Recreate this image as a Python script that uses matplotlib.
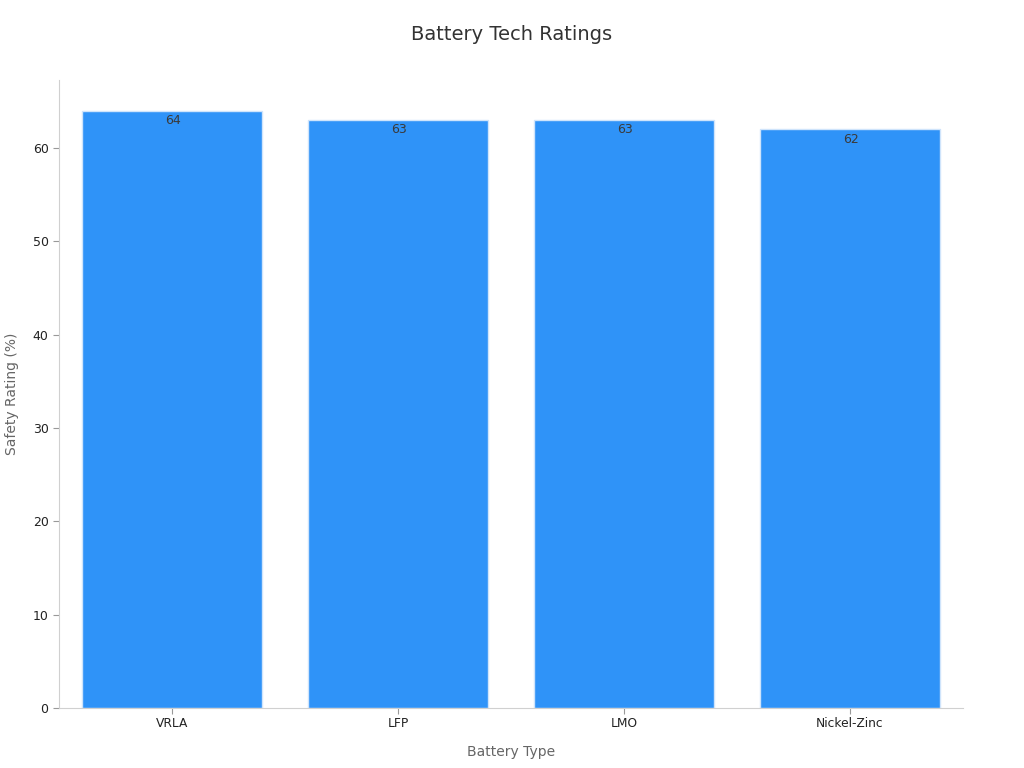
import matplotlib
matplotlib.use("Agg")
import matplotlib.pyplot as plt

categories = ["VRLA", "LFP", "LMO", "Nickel-Zinc"]
values = [64, 63, 63, 62]

fig = plt.figure(figsize=(10.24, 7.68), dpi=100)
ax = fig.add_axes([0.0576, 0.078, 0.8828, 0.818])
x = list(range(len(categories)))
bars = ax.bar(x, values, width=0.8, color="#2f93f8", edgecolor="#cfe4fb", linewidth=1)
for xi, v in zip(x, values):
    ax.text(xi + 0.005, v - 0.35, f"{v}", ha="center", va="top", fontsize=9, color="#3a3a3a")
ax.set_xlim(-0.5, 3.5)
ax.set_ylim(0, 67.3)
ax.set_xticks(x)
ax.set_xticklabels(categories, fontsize=8.8, color="#222222")
ax.set_yticks([0, 10, 20, 30, 40, 50, 60])
ax.tick_params(axis="y", labelsize=9, colors="#222222")
ax.tick_params(axis="both", color="#999999", length=4)
ax.tick_params(axis="x", pad=2.5)
for s in ["top", "right"]:
    ax.spines[s].set_visible(False)
for s in ["left", "bottom"]:
    ax.spines[s].set_color("#d0d0d0")
ax.set_xlabel("Battery Type", fontsize=10, color="#666666", labelpad=11)
ax.set_ylabel("Safety Rating (%)", fontsize=10, color="#666666", labelpad=10)
fig.suptitle("Battery Tech Ratings", fontsize=14, color="#333333", y=0.968)
fig.savefig("out.png", dpi=100)
